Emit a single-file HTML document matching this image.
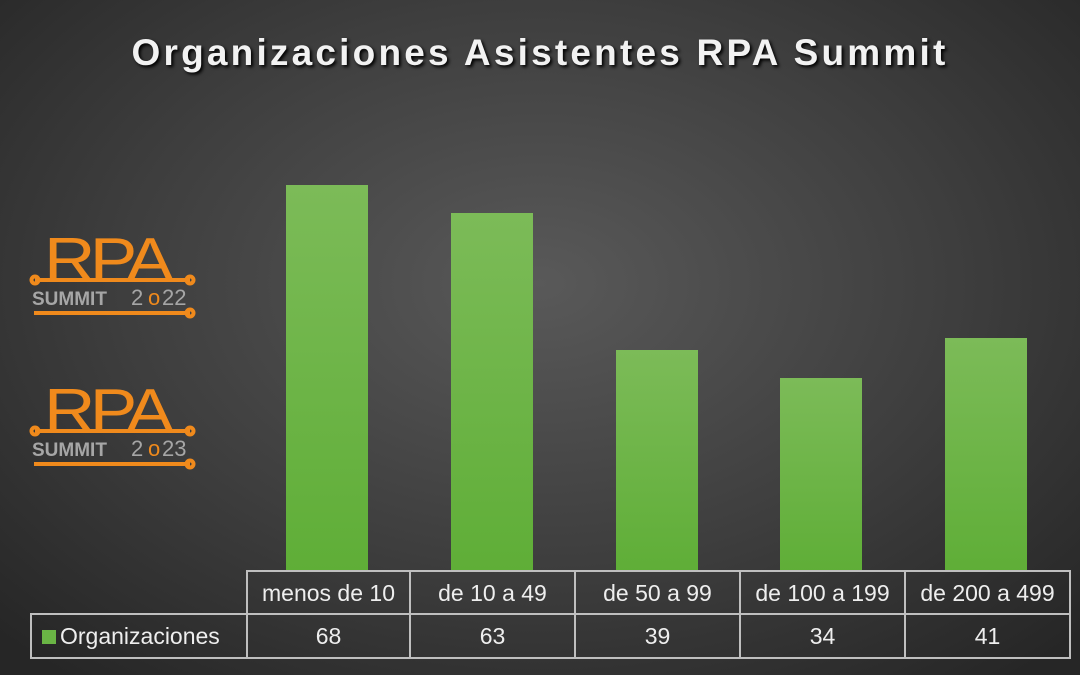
<!DOCTYPE html>
<html><head><style>
body{margin:0;width:1080px;height:675px;overflow:hidden;background:radial-gradient(ellipse 70% 75% at 50% 42%,#595959 0%,#3e3e3e 55%,#262626 100%);font-family:"Liberation Sans",sans-serif;position:relative}
.t{position:absolute;top:32px;left:0;width:1080px;text-align:center;color:#f2f2f2;font-weight:bold;font-size:37px;letter-spacing:3.2px;text-shadow:2px 2px 3px #000}
.b{position:absolute;width:82px;background:linear-gradient(#7cbb58,#5fae37);bottom:104px}
.c{position:absolute;border:2px solid #bfbfbf;box-sizing:border-box;color:#eee;font-size:23px;text-align:center}
</style></head><body>
<div class="t">Organizaciones Asistentes RPA Summit</div>
<div class="b" style="left:286px;top:185px"></div>
<div class="b" style="left:451px;top:213px"></div>
<div class="b" style="left:616px;top:350px"></div>
<div class="b" style="left:780px;top:378px"></div>
<div class="b" style="left:945px;top:338px"></div>
<div class="c" style="left:246px;top:570px;width:165px;height:45px;line-height:42px">menos de 10</div>
<div class="c" style="left:409px;top:570px;width:167px;height:45px;line-height:42px">de 10 a 49</div>
<div class="c" style="left:574px;top:570px;width:167px;height:45px;line-height:42px">de 50 a 99</div>
<div class="c" style="left:739px;top:570px;width:167px;height:45px;line-height:42px">de 100 a 199</div>
<div class="c" style="left:904px;top:570px;width:167px;height:45px;line-height:42px">de 200 a 499</div>
<div class="c" style="left:30px;top:613px;width:218px;height:46px;line-height:43px;text-align:left;padding-left:10px"><span style="display:inline-block;width:14px;height:14px;background:#6ab545;margin-right:4px"></span>Organizaciones</div>
<div class="c" style="left:246px;top:613px;width:165px;height:46px;line-height:43px">68</div>
<div class="c" style="left:409px;top:613px;width:167px;height:46px;line-height:43px">63</div>
<div class="c" style="left:574px;top:613px;width:167px;height:46px;line-height:43px">39</div>
<div class="c" style="left:739px;top:613px;width:167px;height:46px;line-height:43px">34</div>
<div class="c" style="left:904px;top:613px;width:167px;height:46px;line-height:43px">41</div>
<svg width="1080" height="675" style="position:absolute;left:0;top:0">
<g fill="none" stroke="#f08a1c" stroke-width="4">
<text x="44" y="281" font-family="Liberation Sans" font-size="62" fill="#f08a1c" stroke="none" letter-spacing="-5" transform="translate(44 281) scale(1.15 1) translate(-44 -281)">RPA</text>
<line x1="35" y1="280" x2="190" y2="280"/><circle cx="35" cy="280" r="3.5"/><circle cx="190" cy="280" r="3.5"/>
<text x="32" y="305" font-family="Liberation Sans" font-weight="bold" font-size="19" fill="#a6a6a6" stroke="none">SUMMIT</text>
<text x="131" y="305" font-family="Liberation Sans" font-size="22" fill="#a6a6a6" stroke="none">2</text>
<text x="148" y="305" font-family="Liberation Sans" font-size="22" fill="#f08a1c" stroke="none">o</text>
<text x="162" y="305" font-family="Liberation Sans" font-size="22" fill="#a6a6a6" stroke="none">22</text>
<line x1="34" y1="313" x2="190" y2="313"/><circle cx="190" cy="313" r="3.5"/>
</g>
<g fill="none" stroke="#f08a1c" stroke-width="4">
<text x="44" y="432" font-family="Liberation Sans" font-size="62" fill="#f08a1c" stroke="none" letter-spacing="-5" transform="translate(44 432) scale(1.15 1) translate(-44 -432)">RPA</text>
<line x1="35" y1="431" x2="190" y2="431"/><circle cx="35" cy="431" r="3.5"/><circle cx="190" cy="431" r="3.5"/>
<text x="32" y="456" font-family="Liberation Sans" font-weight="bold" font-size="19" fill="#a6a6a6" stroke="none">SUMMIT</text>
<text x="131" y="456" font-family="Liberation Sans" font-size="22" fill="#a6a6a6" stroke="none">2</text>
<text x="148" y="456" font-family="Liberation Sans" font-size="22" fill="#f08a1c" stroke="none">o</text>
<text x="162" y="456" font-family="Liberation Sans" font-size="22" fill="#a6a6a6" stroke="none">23</text>
<line x1="34" y1="464" x2="190" y2="464"/><circle cx="190" cy="464" r="3.5"/>
</g>
</svg>
</body></html>
